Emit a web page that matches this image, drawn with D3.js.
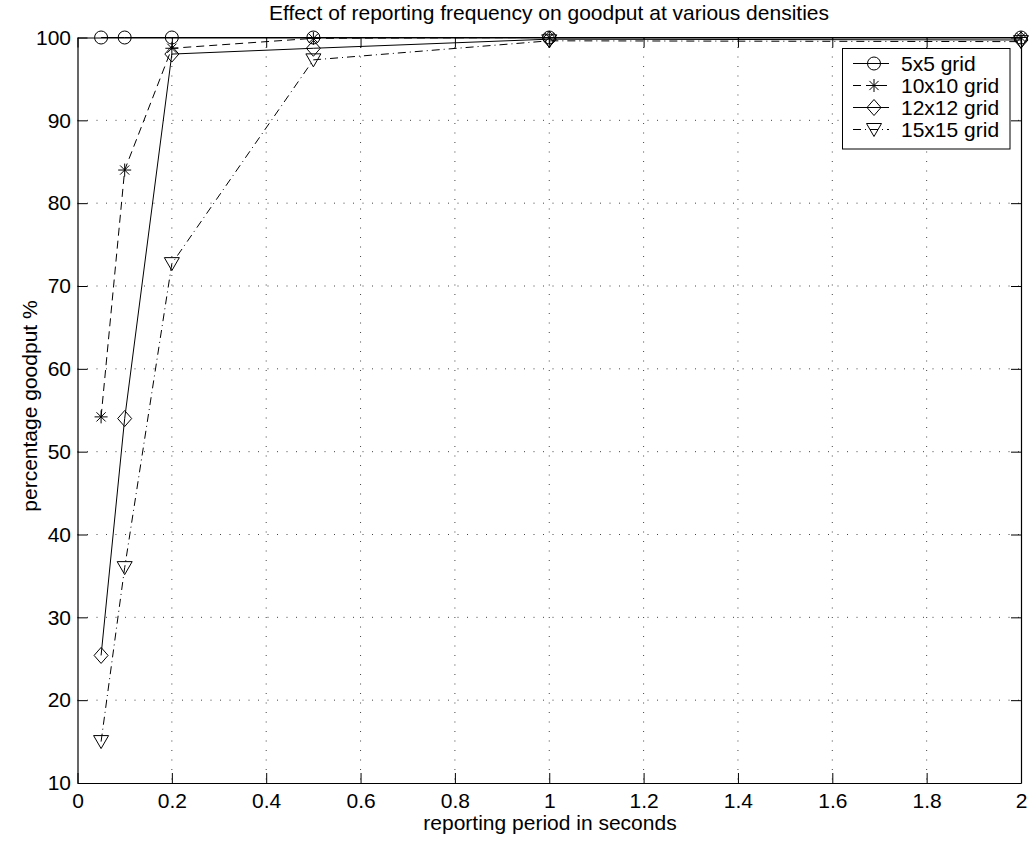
<!DOCTYPE html>
<html>
<head>
<meta charset="utf-8">
<script src="https://cdn.jsdelivr.net/npm/d3@7"></script>
<style>
  body { margin: 0; background: #fff; }
  svg { display: block; font-family: "Liberation Sans", Arial, Helvetica, sans-serif; }
</style>
</head>
<body>
<svg id="chart" width="1029" height="841"></svg>
<script>
// Reporting periods (seconds) and goodput (%) for each grid density
const periods = [0.05, 0.1, 0.2, 0.5, 1, 2];
const grid5 = [100, 100, 100, 100, 100, 100];
const grid10 = [54.2, 84.0, 98.7, 99.9, 100, 100];
const grid12 = [25.4, 54.0, 98.0, 98.7, 99.8, 99.7];
const grid15 = [15.0, 36.0, 72.7, 97.3, 99.6, 99.5];
const seriesNames = ["5x5 grid", "10x10 grid", "12x12 grid", "15x15 grid"];
const xTicks = [0, 0.2, 0.4, 0.6, 0.8, 1, 1.2, 1.4, 1.6, 1.8, 2];
const yTicks = [10, 20, 30, 40, 50, 60, 70, 80, 90, 100];
const titleText = "Effect of reporting frequency on goodput at various densities";
const xLabel = "reporting period in seconds";
const yLabel = "percentage goodput %";

const svg = d3.select("#chart");
const m = { left: 77.5, right: 1021, top: 37.5, bottom: 783 };

const x = d3.scaleLinear().domain([0, 2]).range([m.left, m.right]);
const y = d3.scaleLinear().domain([10, 100]).range([m.bottom, m.top]);

// dotted grid
const g = svg.append("g");
g.selectAll("line.gx").data(xTicks.slice(1, -1)).join("line")
  .attr("x1", d => x(d)).attr("x2", d => x(d))
  .attr("y1", m.top).attr("y2", m.bottom)
  .attr("stroke", "#444").attr("stroke-width", 1).attr("stroke-dasharray", "1,8.5");
g.selectAll("line.gy").data(yTicks.slice(1, -1)).join("line")
  .attr("y1", d => y(d)).attr("y2", d => y(d))
  .attr("x1", m.left).attr("x2", m.right)
  .attr("stroke", "#444").attr("stroke-width", 1).attr("stroke-dasharray", "1,8.5");

// axes with inward ticks, labels on left and bottom only
const tickLen = 10;
const tickFont = 21;
svg.append("g").attr("transform", `translate(0,${m.bottom})`)
  .call(d3.axisBottom(x).tickValues(xTicks).tickFormat(d3.format("~g")).tickSizeInner(-tickLen).tickSizeOuter(0).tickPadding(10.5))
  .call(a => a.selectAll("text").attr("font-size", tickFont).attr("fill", "#000"));
svg.append("g").attr("transform", `translate(${m.left},0)`)
  .call(d3.axisLeft(y).tickValues(yTicks).tickSizeInner(-tickLen).tickSizeOuter(0).tickPadding(6.5))
  .call(a => a.selectAll("text").attr("font-size", tickFont).attr("fill", "#000"));
svg.append("g").attr("transform", `translate(0,${m.top})`)
  .call(d3.axisTop(x).tickValues(xTicks).tickFormat("").tickSizeInner(-tickLen).tickSizeOuter(0));
svg.append("g").attr("transform", `translate(${m.right},0)`)
  .call(d3.axisRight(y).tickValues(yTicks).tickFormat("").tickSizeInner(-tickLen).tickSizeOuter(0));
svg.selectAll(".domain").attr("stroke", "#000").attr("stroke-width", 1.2);
svg.selectAll(".tick line").attr("stroke", "#000");

// series definitions
const series = [
  { name: seriesNames[0], values: grid5, dash: null, marker: "circle" },
  { name: seriesNames[1], values: grid10, dash: "8,5", marker: "star" },
  { name: seriesNames[2], values: grid12, dash: null, marker: "diamond" },
  { name: seriesNames[3], values: grid15, dash: "8,4,1,4", marker: "triangleDown" }
];

function drawMarker(sel, type, cx, cy) {
  const s = sel.append("g").attr("transform", `translate(${cx},${cy})`)
    .attr("fill", "none").attr("stroke", "#000").attr("stroke-width", 1);
  if (type === "circle") {
    s.append("circle").attr("r", 6.5);
  } else if (type === "star") {
    const r = 6.5;
    [0, 45, 90, 135].forEach(a => {
      const t = a * Math.PI / 180;
      s.append("line").attr("x1", -r * Math.cos(t)).attr("y1", -r * Math.sin(t))
        .attr("x2", r * Math.cos(t)).attr("y2", r * Math.sin(t));
    });
  } else if (type === "diamond") {
    s.append("path").attr("d", "M0,-8L7,0L0,8L-7,0Z");
  } else if (type === "triangleDown") {
    s.append("path").attr("d", "M-7.5,-6L7.5,-6L0,7Z");
  }
}

const line = d3.line().x(d => x(d[0])).y(d => y(d[1]));
series.forEach(sr => {
  const pts = periods.map((p, i) => [p, sr.values[i]]);
  svg.append("path").datum(pts).attr("d", line)
    .attr("fill", "none").attr("stroke", "#000").attr("stroke-width", 1)
    .attr("stroke-dasharray", sr.dash);
  pts.forEach(p => drawMarker(svg, sr.marker, x(p[0]), y(p[1])));
});

// legend
const lg = svg.append("g");
lg.append("rect").attr("x", 842.5).attr("y", 48.5).attr("width", 167.5).attr("height", 100.5)
  .attr("fill", "#fff").attr("stroke", "#000").attr("stroke-width", 1);
series.forEach((sr, i) => {
  const ry = 63.5 + i * 22;
  lg.append("line").attr("x1", 853).attr("x2", 889).attr("y1", ry).attr("y2", ry)
    .attr("stroke", "#000").attr("stroke-width", 1).attr("stroke-dasharray", sr.dash);
  drawMarker(lg, sr.marker, 874, ry);
  lg.append("text").attr("x", 901).attr("y", ry + 7.5).attr("font-size", 21).text(sr.name);
});

// title and axis labels
svg.append("text").attr("x", 549).attr("y", 20).attr("text-anchor", "middle")
  .attr("font-size", 21).text(titleText);
svg.append("text").attr("x", 550).attr("y", 830).attr("text-anchor", "middle")
  .attr("font-size", 21).text(xLabel);
svg.append("text").attr("transform", "translate(37,406) rotate(-90)").attr("text-anchor", "middle")
  .attr("font-size", 21).text(yLabel);
</script>
</body>
</html>
